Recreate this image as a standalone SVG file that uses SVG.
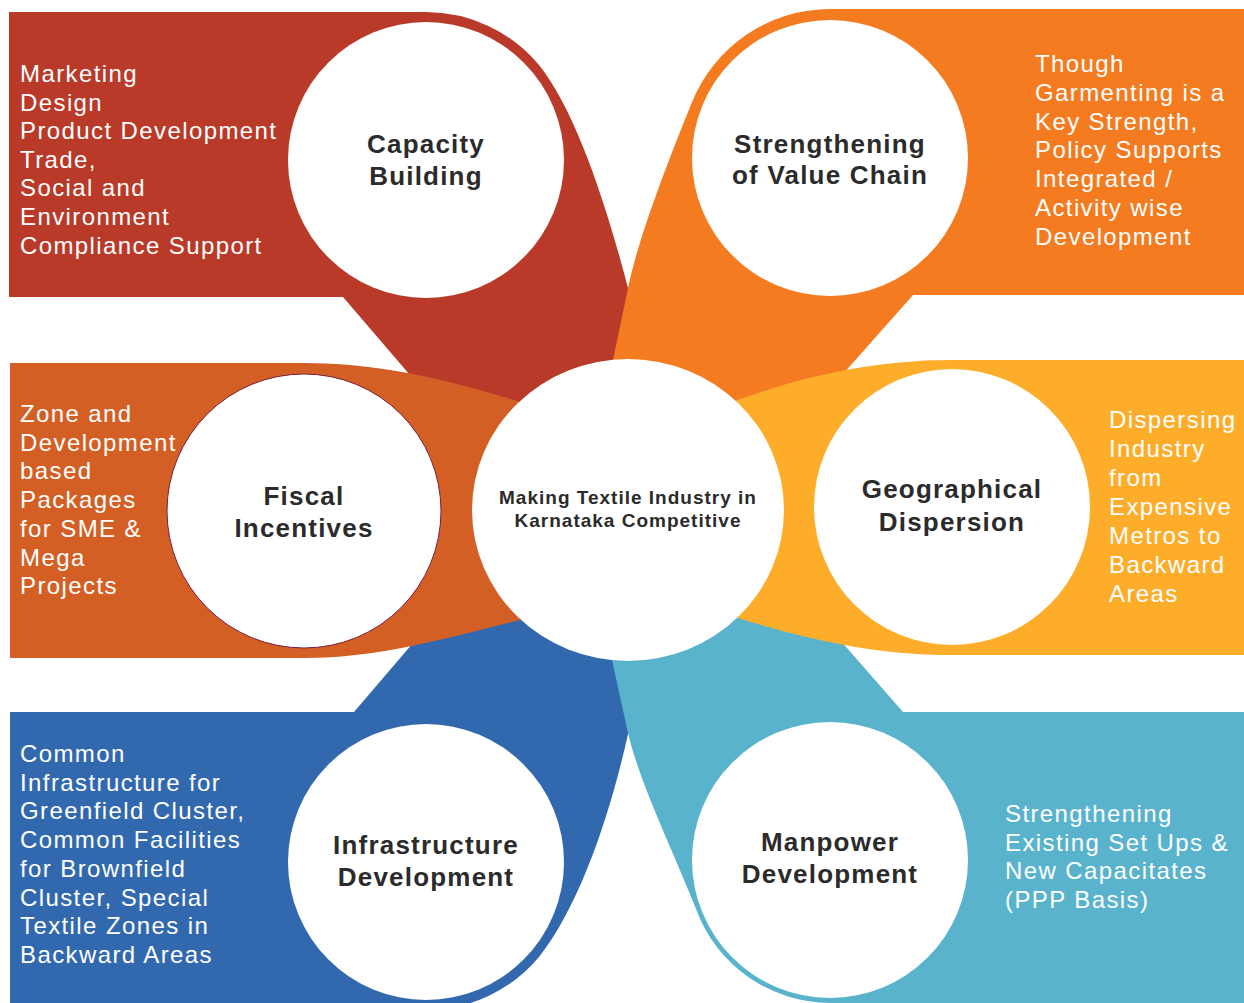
<svg xmlns="http://www.w3.org/2000/svg" width="1244" height="1003" viewBox="0 0 1244 1003">
<style>
.bg{fill:#ffffff}
.red{fill:#B93A29}
.org{fill:#F47B20}
.fis{fill:#D45F25}
.yel{fill:#FDAD2A}
.blu{fill:#3269AE}
.lbl{fill:#5AB3CD}
.disc{fill:#ffffff}
.body{font-family:"Liberation Sans",Arial,sans-serif;font-size:24px;fill:#ffffff;letter-spacing:1.4px}
.title{font-family:"Liberation Sans",Arial,sans-serif;font-size:26px;font-weight:bold;fill:#2B2B2B;letter-spacing:1.2px;text-anchor:middle}
.hubt{font-family:"Liberation Sans",Arial,sans-serif;font-size:19px;font-weight:bold;fill:#2B2B2B;letter-spacing:1px;text-anchor:middle}
</style>
<rect class="bg" x="0" y="0" width="1244" height="1003"/>
<g id="connectors"></g>

<g id="capacity-building">
<path class="red" d="M9,12 H426 A148,148 0 0 1 539,65 C575,110 605,200 628,288 L660,330 L650,420 L470,445 L343,297 H9 Z"/>
<circle class="disc" cx="426" cy="160" r="138"/>
<text class="title" x="426" y="153">Capacity</text>
<text class="title" x="426" y="185">Building</text>
<text class="body" x="20" y="82">Marketing<tspan x="20" dy="28.6">Design</tspan><tspan x="20" dy="28.6">Product Development</tspan><tspan x="20" dy="28.6">Trade,</tspan><tspan x="20" dy="28.6">Social and</tspan><tspan x="20" dy="28.6">Environment</tspan><tspan x="20" dy="28.6">Compliance Support</tspan></text>
</g>

<g id="value-chain">
<path class="org" d="M1244,9 H830 A149,149 0 0 0 692,102 C678,137 640,230 628,288 L613,360 L605,430 L700,440 L820,400 L913,295 H1244 Z"/>
<circle class="disc" cx="830" cy="158" r="138"/>
<text class="title" x="830" y="153">Strengthening</text>
<text class="title" x="830" y="184">of Value Chain</text>
<text class="body" x="1035" y="72">Though<tspan x="1035" dy="28.8">Garmenting is a</tspan><tspan x="1035" dy="28.8">Key Strength,</tspan><tspan x="1035" dy="28.8">Policy Supports</tspan><tspan x="1035" dy="28.8">Integrated /</tspan><tspan x="1035" dy="28.8">Activity wise</tspan><tspan x="1035" dy="28.8">Development</tspan></text>
</g>

<g id="infrastructure-development">
<path class="blu" d="M10,712 H354 L413,643 L470,580 L600,600 L650,620 L645,700 L628,734 C610,815 580,905 539,957 A148,148 0 0 1 426,1010 H10 Z"/>
<circle class="disc" cx="426" cy="862" r="138"/>
<text class="title" x="426" y="854">Infrastructure</text>
<text class="title" x="426" y="886">Development</text>
<text class="body" x="20" y="762">Common<tspan x="20" dy="28.7">Infrastructure for</tspan><tspan x="20" dy="28.7">Greenfield Cluster,</tspan><tspan x="20" dy="28.7">Common Facilities</tspan><tspan x="20" dy="28.7">for Brownfield</tspan><tspan x="20" dy="28.7">Cluster, Special</tspan><tspan x="20" dy="28.7">Textile Zones in</tspan><tspan x="20" dy="28.7">Backward Areas</tspan></text>
</g>

<g id="manpower-development">
<path class="lbl" d="M1244,712 H903 L840,640 L780,600 L650,610 L612,660 L628,733 C639,782 678,862 696,909 A143,143 0 0 0 830,1003 L830,1010 H1244 Z"/>
<circle class="disc" cx="830" cy="860" r="138"/>
<text class="title" x="830" y="851">Manpower</text>
<text class="title" x="830" y="883">Development</text>
<text class="body" x="1005" y="822">Strengthening<tspan x="1005" dy="28.7">Existing Set Ups &amp;</tspan><tspan x="1005" dy="28.7">New Capacitates</tspan><tspan x="1005" dy="28.7">(PPP Basis)</tspan></text>
</g>

<g id="fiscal-incentives">
<path class="fis" d="M10,363 H304 C380,363 450,380 520,402 L590,425 L590,595 L520,620 C450,637 380,658 304,658 H10 Z"/>
<circle class="disc" cx="304" cy="511" r="137" stroke="#7A1F3D" stroke-width="1"/>
<text class="title" x="304" y="505">Fiscal</text>
<text class="title" x="304" y="537">Incentives</text>
<text class="body" x="20" y="422">Zone and<tspan x="20" dy="28.7">Development</tspan><tspan x="20" dy="28.7">based</tspan><tspan x="20" dy="28.7">Packages</tspan><tspan x="20" dy="28.7">for SME &amp;</tspan><tspan x="20" dy="28.7">Mega</tspan><tspan x="20" dy="28.7">Projects</tspan></text>
</g>

<g id="geographical-dispersion">
<path class="yel" d="M1244,360 H952 C870,360 800,378 737,400 L665,425 L665,595 L738,618 C800,637 870,655 952,655 H1244 Z"/>
<circle class="disc" cx="952" cy="507" r="138"/>
<text class="title" x="952" y="498">Geographical</text>
<text class="title" x="952" y="531">Dispersion</text>
<text class="body" x="1109" y="428">Dispersing<tspan x="1109" dy="29">Industry</tspan><tspan x="1109" dy="29">from</tspan><tspan x="1109" dy="29">Expensive</tspan><tspan x="1109" dy="29">Metros to</tspan><tspan x="1109" dy="29">Backward</tspan><tspan x="1109" dy="29">Areas</tspan></text>
</g>

<g id="hub">
<ellipse class="disc" cx="628" cy="510" rx="156" ry="151"/>
<text class="hubt" x="628" y="504">Making Textile Industry in</text>
<text class="hubt" x="628" y="527">Karnataka Competitive</text>
</g>
</svg>
